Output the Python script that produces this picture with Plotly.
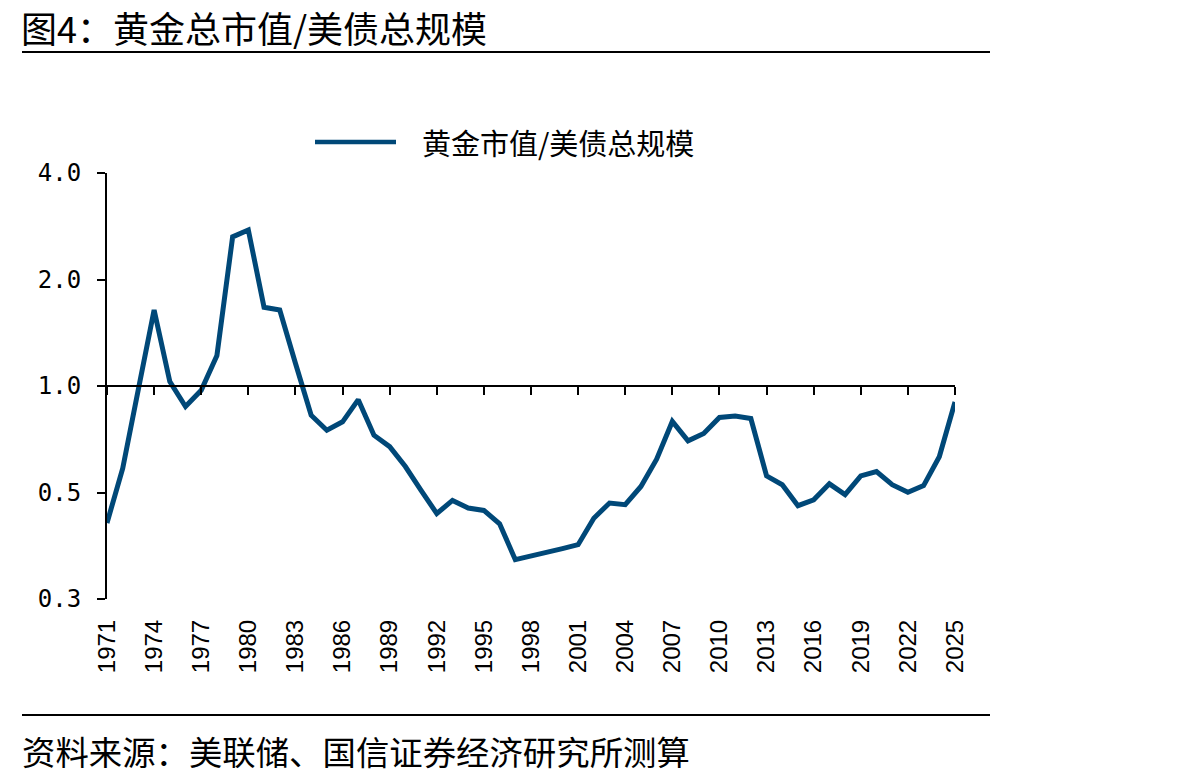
import math
import plotly.graph_objects as go

# ---------------- data ----------------
years = list(range(1971, 2026))
ratio = [
    0.41, 0.585, 0.98, 1.64, 1.03, 0.875, 0.973, 1.22, 2.64, 2.76,
    1.67, 1.64, 1.16, 0.827, 0.75, 0.792, 0.915, 0.726, 0.674, 0.592,
    0.507, 0.436, 0.475, 0.452, 0.445, 0.408, 0.323, 0.330, 0.339, 0.347,
    0.356, 0.423, 0.467, 0.462, 0.520, 0.621, 0.794, 0.700, 0.734, 0.815,
    0.822, 0.809, 0.557, 0.526, 0.459, 0.477, 0.529, 0.493, 0.557, 0.573,
    0.526, 0.501, 0.523, 0.631, 0.901,
]
x_tick_vals = list(range(1971, 2026, 3))
x_tick_text = [str(v) for v in x_tick_vals]
y_tick_vals = [0.25, 0.5, 1.0, 2.0, 4.0]
y_tick_text = ["0.3", "0.5", "1.0", "2.0", "4.0"]

title_text = "图4：黄金总市值/美债总规模"
series_name = "黄金市值/美债总规模"
source_text = "资料来源：美联储、国信证券经济研究所测算"

# ---------------- layout geometry (pixels) ----------------
FIG_W, FIG_H = 1204, 782
PL, PR, PT, PB = 107, 955, 173, 599   # plot area
W, H = PR - PL, PB - PT

def px(xp):
    return (xp - PL) / W

def py(yp):
    return (PB - yp) / H

LINE_COLOR = "#004878"
CJK = "Noto Sans CJK SC"

fig = go.Figure()
fig.add_trace(go.Scatter(
    x=years, y=ratio, mode="lines", name=series_name,
    line=dict(color=LINE_COLOR, width=5), showlegend=False,
))
# dummy trace to carry the crossing axis at 1.0
fig.add_trace(go.Scatter(
    x=years, y=ratio, mode="lines", xaxis="x2", yaxis="y",
    line=dict(color="rgba(0,0,0,0)", width=0), showlegend=False,
    hoverinfo="skip",
))

fig.update_layout(
    width=FIG_W, height=FIG_H,
    margin=dict(l=PL, r=FIG_W - PR, t=PT, b=FIG_H - PB, pad=0),
    paper_bgcolor="white", plot_bgcolor="white",
    showlegend=False,
    xaxis=dict(
        range=[1971, 2025], tickmode="array", tickvals=x_tick_vals,
        ticktext=x_tick_text, tickangle=-90, ticks="", showline=False,
        showgrid=False, zeroline=False, ticklabelstandoff=15,
        tickfont=dict(family="Liberation Sans, Arial", size=24, color="black"),
    ),
    xaxis2=dict(
        range=[1971, 2025], overlaying="x", anchor="free", position=0.5,
        side="bottom", tickmode="array", tickvals=x_tick_vals,
        showticklabels=False, ticks="outside", ticklen=8, tickwidth=2,
        tickcolor="black", showline=True, linecolor="black", linewidth=2,
        showgrid=False, zeroline=False,
    ),
    yaxis=dict(
        type="log", range=[math.log10(0.25), math.log10(4.0)],
        tickmode="array", tickvals=y_tick_vals, ticktext=y_tick_text,
        ticks="outside", ticklen=8, tickwidth=2, tickcolor="black",
        showline=True, linecolor="black", linewidth=2, showgrid=False,
        zeroline=False, ticklabelstandoff=11,
        tickfont=dict(family="DejaVu Sans Mono", size=24, color="black"),
    ),
)

shapes = [
    # top rule
    dict(type="line", xref="paper", yref="paper", x0=px(22), x1=px(990),
         y0=py(52), y1=py(52), line=dict(color="black", width=2)),
    # bottom rule
    dict(type="line", xref="paper", yref="paper", x0=px(22), x1=px(990),
         y0=py(715), y1=py(715), line=dict(color="black", width=2)),
    # legend sample
    dict(type="line", xref="paper", yref="paper", x0=px(315), x1=px(396),
         y0=py(142), y1=py(142), line=dict(color=LINE_COLOR, width=4.5)),
]
fig.update_layout(shapes=shapes)

annotations = [
    dict(text=title_text, xref="paper", yref="paper", x=px(20), y=py(26.5),
         xanchor="left", yanchor="middle", showarrow=False, borderpad=0,
         font=dict(family=CJK, size=36, color="black")),
    dict(text=series_name, xref="paper", yref="paper", x=px(420), y=py(142),
         xanchor="left", yanchor="middle", showarrow=False,
         font=dict(family=CJK, size=29, color="black")),
    dict(text=source_text, xref="paper", yref="paper", x=px(20), y=py(750),
         xanchor="left", yanchor="middle", showarrow=False,
         font=dict(family=CJK, size=33.4, color="black")),
]
fig.update_layout(annotations=annotations)

fig.write_html("out.html")
